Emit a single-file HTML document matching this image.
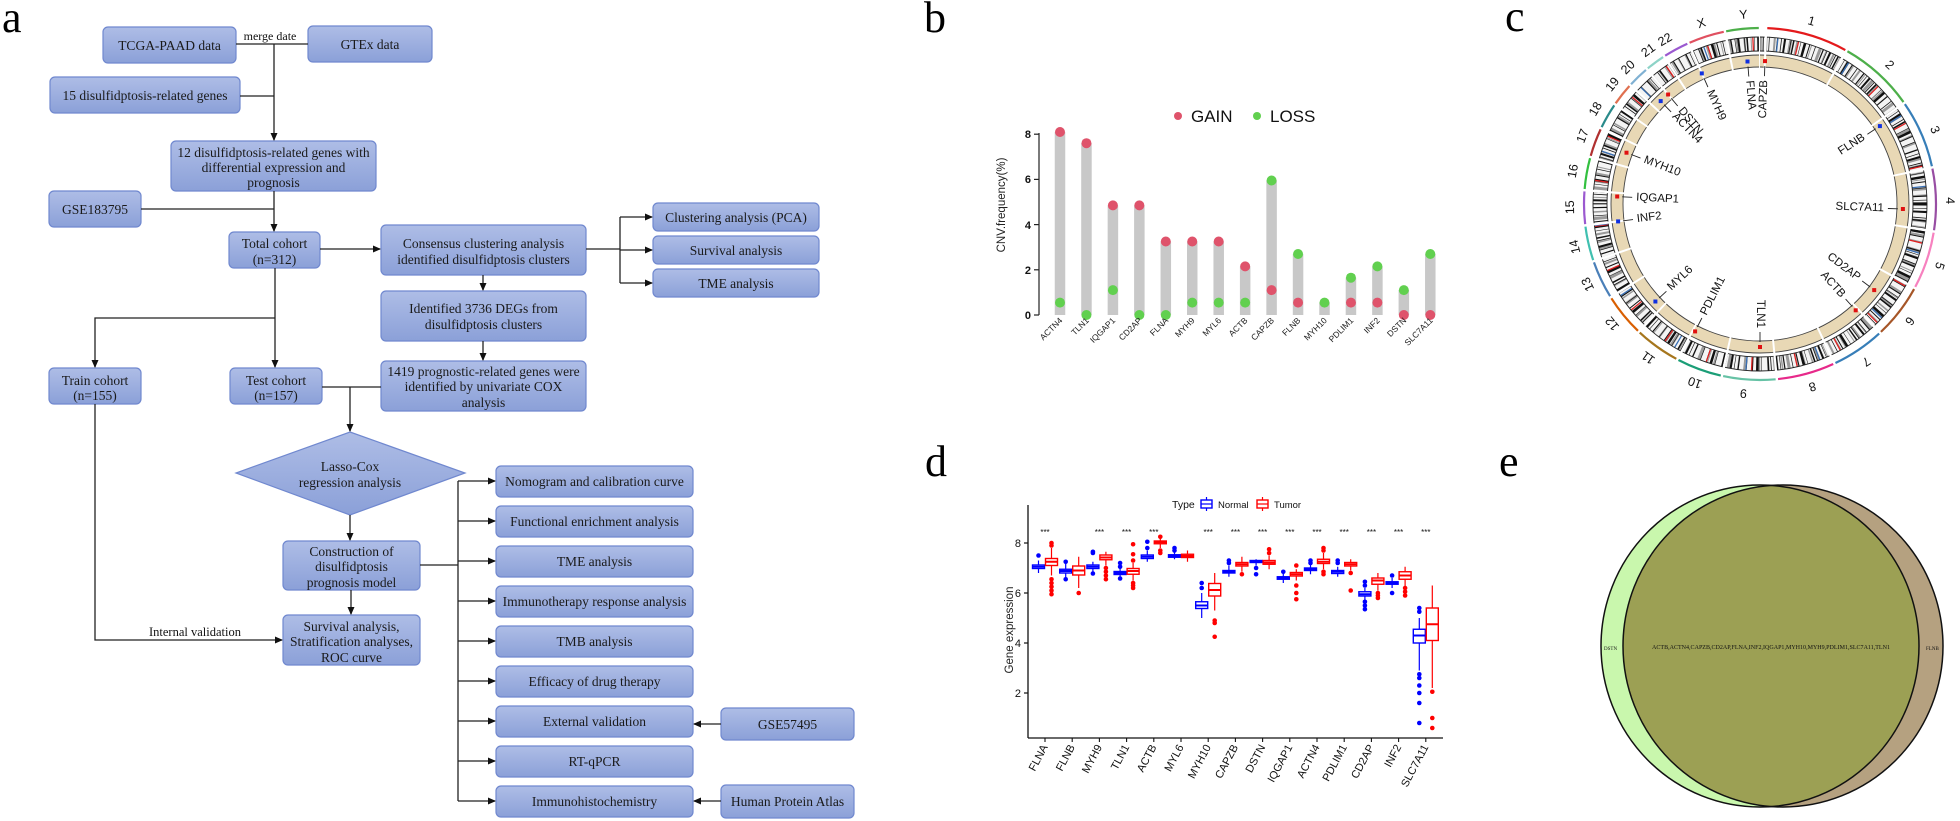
<!DOCTYPE html>
<html><head><meta charset="utf-8"><style>
html,body{margin:0;padding:0;background:#fff;width:1960px;height:821px;overflow:hidden}
svg{display:block}
.fb{fill:url(#bg);stroke:#7088cf;stroke-width:1.2}
.ft{font-family:"Liberation Serif",serif;font-size:13.5px;fill:#1a1a1a;text-anchor:middle}
.ln{stroke:#222;stroke-width:1.3;fill:none}
.ar{stroke:#222;stroke-width:1.3;fill:none;marker-end:url(#ah)}
.pl{font-family:"Liberation Serif",serif;font-size:44px;fill:#000}
.sa{font-family:"Liberation Sans",sans-serif}
.nb rect{fill:#fff;stroke:#0000ff;stroke-width:1.4}
.nb line{stroke:#0000ff;stroke-width:1.2}
.nb circle{fill:#0000ff}
.tb rect{fill:#fff;stroke:#ff0000;stroke-width:1.4}
.tb line{stroke:#ff0000;stroke-width:1.2}
.tb circle{fill:#ff0000}
.md{stroke-width:2 !important}
</style></head><body>
<svg width="1960" height="821" viewBox="0 0 1960 821" xmlns="http://www.w3.org/2000/svg">
<defs>
<linearGradient id="bg" x1="0" y1="0" x2="0" y2="1"><stop offset="0" stop-color="#aebde6"/><stop offset="1" stop-color="#8ba0d8"/></linearGradient>
<marker id="ah" markerWidth="8" markerHeight="8" refX="7" refY="4" orient="auto" markerUnits="userSpaceOnUse"><path d="M0,0.5 L8,4 L0,7.5 z" fill="#111"/></marker>
<clipPath id="gc"><ellipse cx="1760" cy="646" rx="159" ry="161"/></clipPath>
</defs>

<!-- ========== PANEL A ========== -->
<text class="pl" x="2" y="32">a</text>
<g>
<rect class="fb" x="103" y="27" width="133" height="36" rx="5"/><text class="ft" x="169.5" y="50">TCGA-PAAD data</text>
<rect class="fb" x="308" y="26" width="124" height="36" rx="5"/><text class="ft" x="370" y="49">GTEx data</text>
<rect class="fb" x="50" y="77" width="190" height="36" rx="5"/><text class="ft" x="145" y="100">15 disulfidptosis-related genes</text>
<rect class="fb" x="171" y="141" width="205" height="50" rx="5"/>
<text class="ft" x="273.5" y="157">12 disulfidptosis-related genes with</text>
<text class="ft" x="273.5" y="172">differential expression and</text>
<text class="ft" x="273.5" y="187">prognosis</text>
<rect class="fb" x="49" y="191" width="92" height="36" rx="5"/><text class="ft" x="95" y="214">GSE183795</text>
<rect class="fb" x="229" y="232" width="91" height="36" rx="5"/><text class="ft" x="274.5" y="248">Total cohort</text><text class="ft" x="274.5" y="264">(n=312)</text>
<rect class="fb" x="381" y="225" width="205" height="50" rx="5"/><text class="ft" x="483.5" y="248">Consensus clustering analysis</text><text class="ft" x="483.5" y="264">identified disulfidptosis clusters</text>
<rect class="fb" x="653" y="203" width="166" height="28" rx="5"/><text class="ft" x="736" y="222">Clustering analysis (PCA)</text>
<rect class="fb" x="653" y="236" width="166" height="28" rx="5"/><text class="ft" x="736" y="255">Survival analysis</text>
<rect class="fb" x="653" y="269" width="166" height="28" rx="5"/><text class="ft" x="736" y="288">TME analysis</text>
<rect class="fb" x="381" y="291" width="205" height="50" rx="5"/><text class="ft" x="483.5" y="313">Identified 3736 DEGs from</text><text class="ft" x="483.5" y="329">disulfidptosis clusters</text>
<rect class="fb" x="381" y="361" width="205" height="50" rx="5"/><text class="ft" x="483.5" y="376">1419 prognostic-related genes were</text><text class="ft" x="483.5" y="391">identified by univariate COX</text><text class="ft" x="483.5" y="407">analysis</text>
<rect class="fb" x="49" y="368" width="92" height="36" rx="5"/><text class="ft" x="95" y="385">Train cohort</text><text class="ft" x="95" y="400">(n=155)</text>
<rect class="fb" x="230" y="368" width="92" height="36" rx="5"/><text class="ft" x="276" y="385">Test cohort</text><text class="ft" x="276" y="400">(n=157)</text>
<polygon points="350,432 465,473 350,515 236,473" fill="url(#bg)" stroke="#7088cf" stroke-width="1.2"/>
<text class="ft" x="350" y="471">Lasso-Cox</text><text class="ft" x="350" y="487">regression analysis</text>
<rect class="fb" x="283" y="541" width="137" height="49" rx="5"/><text class="ft" x="351.5" y="556">Construction of</text><text class="ft" x="351.5" y="571">disulfidptosis</text><text class="ft" x="351.5" y="587">prognosis model</text>
<rect class="fb" x="283" y="615" width="137" height="50" rx="5"/><text class="ft" x="351.5" y="631">Survival analysis,</text><text class="ft" x="351.5" y="646">Stratification analyses,</text><text class="ft" x="351.5" y="662">ROC curve</text>
<rect class="fb" x="496" y="466" width="197" height="31" rx="5"/><text class="ft" x="594.5" y="486">Nomogram and calibration curve</text>
<rect class="fb" x="496" y="506" width="197" height="31" rx="5"/><text class="ft" x="594.5" y="526">Functional enrichment analysis</text>
<rect class="fb" x="496" y="546" width="197" height="31" rx="5"/><text class="ft" x="594.5" y="566">TME analysis</text>
<rect class="fb" x="496" y="586" width="197" height="31" rx="5"/><text class="ft" x="594.5" y="606">Immunotherapy response analysis</text>
<rect class="fb" x="496" y="626" width="197" height="31" rx="5"/><text class="ft" x="594.5" y="646">TMB analysis</text>
<rect class="fb" x="496" y="666" width="197" height="31" rx="5"/><text class="ft" x="594.5" y="686">Efficacy of drug therapy</text>
<rect class="fb" x="496" y="706" width="197" height="31" rx="5"/><text class="ft" x="594.5" y="726">External validation</text>
<rect class="fb" x="496" y="746" width="197" height="31" rx="5"/><text class="ft" x="594.5" y="766">RT-qPCR</text>
<rect class="fb" x="496" y="786" width="197" height="31" rx="5"/><text class="ft" x="594.5" y="806">Immunohistochemistry</text>
<rect class="fb" x="721" y="708" width="133" height="32" rx="5"/><text class="ft" x="787.5" y="729">GSE57495</text>
<rect class="fb" x="721" y="785" width="133" height="33" rx="5"/><text class="ft" x="787.5" y="806">Human Protein Atlas</text>

<text x="270" y="40" font-family="Liberation Serif,serif" font-size="12" text-anchor="middle" fill="#111">merge date</text>
<text x="195" y="636" font-family="Liberation Serif,serif" font-size="12.5" text-anchor="middle" fill="#111">Internal validation</text>

<line class="ln" x1="236" y1="44" x2="308" y2="44"/>
<line class="ar" x1="274" y1="44" x2="274" y2="140"/>
<line class="ln" x1="240" y1="96" x2="274" y2="96"/>
<line class="ln" x1="141" y1="209" x2="274" y2="209"/>
<line class="ar" x1="274" y1="191" x2="274" y2="231"/>
<line class="ar" x1="320" y1="249" x2="380" y2="249"/>
<line class="ln" x1="586" y1="249" x2="620" y2="249"/>
<line class="ln" x1="620" y1="217" x2="620" y2="283"/>
<line class="ar" x1="620" y1="217" x2="652" y2="217"/>
<line class="ar" x1="620" y1="250" x2="652" y2="250"/>
<line class="ar" x1="620" y1="283" x2="652" y2="283"/>
<line class="ar" x1="483" y1="275" x2="483" y2="290"/>
<line class="ar" x1="483" y1="341" x2="483" y2="360"/>
<line class="ar" x1="275" y1="268" x2="275" y2="367"/>
<polyline class="ar" points="275,318 95,318 95,367"/>
<line class="ln" x1="322" y1="387" x2="381" y2="387"/>
<line class="ar" x1="350" y1="387" x2="350" y2="431"/>
<line class="ar" x1="350" y1="515" x2="350" y2="540"/>
<line class="ar" x1="351" y1="590" x2="351" y2="614"/>
<polyline class="ar" points="95,404 95,640 282,640"/>
<line class="ln" x1="420" y1="565" x2="458" y2="565"/>
<line class="ln" x1="458" y1="481" x2="458" y2="801"/>
<line class="ar" x1="458" y1="481" x2="495" y2="481"/>
<line class="ar" x1="458" y1="521" x2="495" y2="521"/>
<line class="ar" x1="458" y1="561" x2="495" y2="561"/>
<line class="ar" x1="458" y1="601" x2="495" y2="601"/>
<line class="ar" x1="458" y1="641" x2="495" y2="641"/>
<line class="ar" x1="458" y1="681" x2="495" y2="681"/>
<line class="ar" x1="458" y1="721" x2="495" y2="721"/>
<line class="ar" x1="458" y1="761" x2="495" y2="761"/>
<line class="ar" x1="458" y1="801" x2="495" y2="801"/>
<line class="ar" x1="721" y1="724" x2="694" y2="724"/>
<line class="ar" x1="721" y1="801" x2="694" y2="801"/>
</g>

<!-- ========== PANEL B ========== -->
<text class="pl" x="924" y="32">b</text>
<g class="sa">
<circle cx="1178" cy="116" r="4" fill="#DF536B"/><text x="1191" y="122" font-size="17" fill="#111">GAIN</text>
<circle cx="1257" cy="116" r="4" fill="#61D04F"/><text x="1270" y="122" font-size="17" fill="#111">LOSS</text>
<text transform="translate(1005,205) rotate(-90)" font-size="11.5" text-anchor="middle" fill="#222">CNV.frequency(%)</text>
<line x1="1039" y1="133" x2="1039" y2="315" stroke="#222" stroke-width="1.2"/>
<g stroke="#222" stroke-width="1.2">
<line x1="1034" y1="315" x2="1039" y2="315"/><line x1="1034" y1="269.8" x2="1039" y2="269.8"/><line x1="1034" y1="224.6" x2="1039" y2="224.6"/><line x1="1034" y1="179.4" x2="1039" y2="179.4"/><line x1="1034" y1="134.2" x2="1039" y2="134.2"/>
</g>
<g font-size="11" font-weight="bold" text-anchor="end" fill="#111">
<text x="1031" y="319">0</text><text x="1031" y="274">2</text><text x="1031" y="229">4</text><text x="1031" y="183">6</text><text x="1031" y="138">8</text>
</g>
<g fill="#c8c8c8">
<rect x="1054.75" y="132" width="10.5" height="183"/>
<rect x="1081.2" y="143.2" width="10.5" height="171.8"/>
<rect x="1107.65" y="205.4" width="10.5" height="109.6"/>
<rect x="1134.1" y="205.4" width="10.5" height="109.6"/>
<rect x="1160.55" y="241.5" width="10.5" height="73.5"/>
<rect x="1187" y="241.5" width="10.5" height="73.5"/>
<rect x="1213.45" y="241.5" width="10.5" height="73.5"/>
<rect x="1239.9" y="266.4" width="10.5" height="48.6"/>
<rect x="1266.35" y="180.5" width="10.5" height="134.5"/>
<rect x="1292.8" y="254" width="10.5" height="61"/>
<rect x="1319.25" y="302.6" width="10.5" height="12.4"/>
<rect x="1345.7" y="277.7" width="10.5" height="37.3"/>
<rect x="1372.15" y="266.4" width="10.5" height="48.6"/>
<rect x="1398.6" y="290.1" width="10.5" height="24.9"/>
<rect x="1425.05" y="254" width="10.5" height="61"/>
</g>
<g fill="#61D04F">
<circle cx="1060" cy="302.6" r="5"/><circle cx="1086.45" cy="315" r="5"/><circle cx="1112.9" cy="290.1" r="5"/><circle cx="1139.35" cy="315" r="5"/><circle cx="1165.8" cy="315" r="5"/><circle cx="1192.25" cy="302.6" r="5"/><circle cx="1218.7" cy="302.6" r="5"/><circle cx="1245.15" cy="302.6" r="5"/><circle cx="1271.6" cy="180.5" r="5"/><circle cx="1298.05" cy="254" r="5"/><circle cx="1324.5" cy="302.6" r="5"/><circle cx="1350.95" cy="277.7" r="5"/><circle cx="1377.4" cy="266.4" r="5"/><circle cx="1403.85" cy="290.1" r="5"/><circle cx="1430.3" cy="254" r="5"/>
</g>
<g fill="#DF536B">
<circle cx="1060" cy="132" r="5"/><circle cx="1086.45" cy="143.2" r="5"/><circle cx="1112.9" cy="205.4" r="5"/><circle cx="1139.35" cy="205.4" r="5"/><circle cx="1165.8" cy="241.5" r="5"/><circle cx="1192.25" cy="241.5" r="5"/><circle cx="1218.7" cy="241.5" r="5"/><circle cx="1245.15" cy="266.4" r="5"/><circle cx="1271.6" cy="290.1" r="5"/><circle cx="1298.05" cy="302.6" r="5"/><circle cx="1350.95" cy="302.6" r="5"/><circle cx="1377.4" cy="302.6" r="5"/><circle cx="1403.85" cy="315" r="5"/><circle cx="1430.3" cy="315" r="5"/>
</g>
<g font-size="8.5" text-anchor="end" fill="#222">
<text transform="translate(1063,321) rotate(-45)">ACTN4</text>
<text transform="translate(1089.45,321) rotate(-45)">TLN1</text>
<text transform="translate(1115.9,321) rotate(-45)">IQGAP1</text>
<text transform="translate(1142.35,321) rotate(-45)">CD2AP</text>
<text transform="translate(1168.8,321) rotate(-45)">FLNA</text>
<text transform="translate(1195.25,321) rotate(-45)">MYH9</text>
<text transform="translate(1221.7,321) rotate(-45)">MYL6</text>
<text transform="translate(1248.15,321) rotate(-45)">ACTB</text>
<text transform="translate(1274.6,321) rotate(-45)">CAPZB</text>
<text transform="translate(1301.05,321) rotate(-45)">FLNB</text>
<text transform="translate(1327.5,321) rotate(-45)">MYH10</text>
<text transform="translate(1353.95,321) rotate(-45)">PDLIM1</text>
<text transform="translate(1380.4,321) rotate(-45)">INF2</text>
<text transform="translate(1406.85,321) rotate(-45)">DSTN</text>
<text transform="translate(1433.3,321) rotate(-45)">SLC7A11</text>
</g>
</g>

<!-- ========== PANEL C ========== -->
<text class="pl" x="1505" y="31">c</text>
<g>
<!-- outer colored arcs -->
<g fill="none" stroke-width="2.2" transform="rotate(-90 1760 204)">
<circle cx="1760" cy="204" r="176" pathLength="360" stroke="#e41a1c" stroke-dasharray="0 2.4 26.6 720"/>
<circle cx="1760" cy="204" r="176" pathLength="360" stroke="#4daf4a" stroke-dasharray="0 29.8 24.8 720"/>
<circle cx="1760" cy="204" r="176" pathLength="360" stroke="#377eb8" stroke-dasharray="0 55.4 22.2 720"/>
<circle cx="1760" cy="204" r="176" pathLength="360" stroke="#984ea3" stroke-dasharray="0 78.4 20.2 720"/>
<circle cx="1760" cy="204" r="176" pathLength="360" stroke="#f781bf" stroke-dasharray="0 99.4 18.7 720"/>
<circle cx="1760" cy="204" r="176" pathLength="360" stroke="#a65628" stroke-dasharray="0 118.9 17.7 720"/>
<circle cx="1760" cy="204" r="176" pathLength="360" stroke="#377eb8" stroke-dasharray="0 137.4 17.2 720"/>
<circle cx="1760" cy="204" r="176" pathLength="360" stroke="#e7298a" stroke-dasharray="0 155.4 18.7 720"/>
<circle cx="1760" cy="204" r="176" pathLength="360" stroke="#66c2a5" stroke-dasharray="0 174.9 17.2 720"/>
<circle cx="1760" cy="204" r="176" pathLength="360" stroke="#1b9e77" stroke-dasharray="0 192.9 14.7 720"/>
<circle cx="1760" cy="204" r="176" pathLength="360" stroke="#a6761d" stroke-dasharray="0 208.4 14.7 720"/>
<circle cx="1760" cy="204" r="176" pathLength="360" stroke="#d95f02" stroke-dasharray="0 223.9 13.7 720"/>
<circle cx="1760" cy="204" r="176" pathLength="360" stroke="#4a7fb8" stroke-dasharray="0 238.4 12.2 720"/>
<circle cx="1760" cy="204" r="176" pathLength="360" stroke="#40c0b0" stroke-dasharray="0 251.4 11.2 720"/>
<circle cx="1760" cy="204" r="176" pathLength="360" stroke="#9b59d0" stroke-dasharray="0 263.4 10.7 720"/>
<circle cx="1760" cy="204" r="176" pathLength="360" stroke="#33c040" stroke-dasharray="0 274.9 10.2 720"/>
<circle cx="1760" cy="204" r="176" pathLength="360" stroke="#b03030" stroke-dasharray="0 285.9 9.2 720"/>
<circle cx="1760" cy="204" r="176" pathLength="360" stroke="#2a8a8a" stroke-dasharray="0 295.9 8.2 720"/>
<circle cx="1760" cy="204" r="176" pathLength="360" stroke="#e07050" stroke-dasharray="0 304.9 7.2 720"/>
<circle cx="1760" cy="204" r="176" pathLength="360" stroke="#80b1d3" stroke-dasharray="0 312.9 6.7 720"/>
<circle cx="1760" cy="204" r="176" pathLength="360" stroke="#8dd3c7" stroke-dasharray="0 320.4 6.2 720"/>
<circle cx="1760" cy="204" r="176" pathLength="360" stroke="#9b59d0" stroke-dasharray="0 327.4 8.2 720"/>
<circle cx="1760" cy="204" r="176" pathLength="360" stroke="#e05060" stroke-dasharray="0 336.4 11.7 720"/>
<circle cx="1760" cy="204" r="176" pathLength="360" stroke="#4daf4a" stroke-dasharray="0 348.9 10.7 720"/>
</g>
<!-- ideogram -->
<circle cx="1760" cy="204" r="160" fill="none" stroke="#f4f4f4" stroke-width="14"/>
<circle cx="1760" cy="204" r="160" fill="none" stroke="#9a9a9a" stroke-width="14" stroke-dasharray="2 5 1 7 3 4 1.5 6"/>
<circle cx="1760" cy="204" r="160" fill="none" stroke="#111" stroke-width="14" stroke-dasharray="1.2 3 0.6 2 2 4.5 0.8 1.5 1.5 6 0.5 2.5 2.5 3 1 5 0.7 7"/>
<circle cx="1760" cy="204" r="160" fill="none" stroke="#e02020" stroke-width="14" stroke-dasharray="1.3 43" stroke-dashoffset="7"/>
<circle cx="1760" cy="204" r="160" fill="none" stroke="#3a70b5" stroke-width="14" stroke-dasharray="1.3 71" stroke-dashoffset="25"/>
<circle cx="1760" cy="204" r="167" fill="none" stroke="#222" stroke-width="0.9"/>
<circle cx="1760" cy="204" r="153" fill="none" stroke="#222" stroke-width="0.9"/>
<!-- tan ring -->
<circle cx="1760" cy="204" r="143" fill="none" stroke="#e8d8b5" stroke-width="12"/>
<circle cx="1760" cy="204" r="149" fill="none" stroke="#444" stroke-width="0.9"/>
<circle cx="1760" cy="204" r="137" fill="none" stroke="#444" stroke-width="0.9"/>
<!-- chromosome gaps -->
<g transform="rotate(-90 1760 204)" fill="none" stroke="#fff">
<circle cx="1760" cy="204" r="160" pathLength="360" stroke-width="17" stroke-dasharray="0 1.6 0.8 26.6 0.8 24.8 0.8 22.2 0.8 20.2 0.8 18.7 0.8 17.7 0.8 17.2 0.8 18.7 0.8 17.2 0.8 14.7 0.8 14.7 0.8 13.7 0.8 12.2 0.8 11.2 0.8 10.7 0.8 10.2 0.8 9.2 0.8 8.2 0.8 7.2 0.8 6.7 0.8 6.2 0.8 8.2 0.8 11.7 0.8 10.7 0.8 400"/>
<circle cx="1760" cy="204" r="143" pathLength="360" stroke-width="14" stroke-dasharray="0 1.6 0.8 26.6 0.8 24.8 0.8 22.2 0.8 20.2 0.8 18.7 0.8 17.7 0.8 17.2 0.8 18.7 0.8 17.2 0.8 14.7 0.8 14.7 0.8 13.7 0.8 12.2 0.8 11.2 0.8 10.7 0.8 10.2 0.8 9.2 0.8 8.2 0.8 7.2 0.8 6.7 0.8 6.2 0.8 8.2 0.8 11.7 0.8 10.7 0.8 400"/>
</g>
<!-- chromosome labels -->
<g class="sa" font-size="12.5" text-anchor="middle" dominant-baseline="central" fill="#111">
<text x="1811.4" y="21.1" transform="rotate(15.7 1811.4 21.1)">1</text>
<text x="1889.6" y="65" transform="rotate(43 1889.6 65)">2</text>
<text x="1934.9" y="129.8" transform="rotate(67 1934.9 129.8)">3</text>
<text x="1950" y="200.7" transform="rotate(89 1950 200.7)">4</text>
<text x="1939.6" y="265.9" transform="rotate(109 1939.6 265.9)">5</text>
<text x="1909.7" y="321" transform="rotate(128 1909.7 321)">6</text>
<text x="1866.2" y="361.5" transform="rotate(146 1866.2 361.5)">7</text>
<text x="1812.4" y="386.6" transform="rotate(164 1812.4 386.6)">8</text>
<text x="1743.4" y="393.3" transform="rotate(185 1743.4 393.3)">9</text>
<text x="1695" y="382.5" transform="rotate(200 1695 382.5)">10</text>
<text x="1648.3" y="357.7" transform="rotate(216 1648.3 357.7)">11</text>
<text x="1612.3" y="323.6" transform="rotate(231 1612.3 323.6)">12</text>
<text x="1587.8" y="284.3" transform="rotate(245 1587.8 284.3)">13</text>
<text x="1574.9" y="246.8" transform="rotate(257 1574.9 246.8)">14</text>
<text x="1570" y="207.3" transform="rotate(269 1570 207.3)">15</text>
<text x="1572.9" y="171" transform="rotate(280 1572.9 171)">16</text>
<text x="1582.6" y="135.9" transform="rotate(291 1582.6 135.9)">17</text>
<text x="1595.5" y="109" transform="rotate(300 1595.5 109)">18</text>
<text x="1612.4" y="84.4" transform="rotate(309 1612.4 84.4)">19</text>
<text x="1628" y="67.3" transform="rotate(316 1628 67.3)">20</text>
<text x="1648.3" y="50.3" transform="rotate(324 1648.3 50.3)">21</text>
<text x="1665" y="39.5" transform="rotate(330 1665 39.5)">22</text>
<text x="1701.3" y="23.3" transform="rotate(342 1701.3 23.3)">X</text>
<text x="1743.4" y="14.7" transform="rotate(355 1743.4 14.7)">Y</text>
</g>
<!-- gene markers & leaders -->
<g stroke="#222" stroke-width="0.9">
<line x1="1748.8" y1="76.5" x2="1748" y2="66.5"/><line x1="1764.5" y1="76.1" x2="1764.8" y2="66.1"/>
<line x1="1707.9" y1="87.1" x2="1703.9" y2="77.9"/><line x1="1677.7" y1="106" x2="1671.3" y2="98.3"/>
<line x1="1671.1" y1="111.9" x2="1664.1" y2="104.7"/><line x1="1867.4" y1="134.3" x2="1875.7" y2="128.8"/>
<line x1="1640.5" y1="158.1" x2="1631.2" y2="154.5"/><line x1="1632.2" y1="197.3" x2="1622.2" y2="196.8"/>
<line x1="1633" y1="219.6" x2="1623" y2="220.8"/><line x1="1887.9" y1="208.5" x2="1897.9" y2="208.8"/>
<line x1="1666.4" y1="291.3" x2="1659.1" y2="298.1"/><line x1="1862.2" y1="281" x2="1870.2" y2="287"/>
<line x1="1845.6" y1="299.1" x2="1852.3" y2="306.5"/><line x1="1701.9" y1="318" x2="1697.3" y2="327"/>
<line x1="1760" y1="332" x2="1760" y2="342"/>
</g>
<g>
<rect x="1745.5" y="59.5" width="4" height="4" fill="#1030e0"/><rect x="1763" y="59.1" width="4" height="4" fill="#e01010"/>
<rect x="1699.8" y="71.4" width="4" height="4" fill="#1030e0"/><rect x="1666.1" y="92.5" width="4" height="4" fill="#e01010"/>
<rect x="1658.7" y="99.1" width="4" height="4" fill="#1030e0"/><rect x="1877.9" y="124.1" width="4" height="4" fill="#1030e0"/>
<rect x="1624.5" y="150.7" width="4" height="4" fill="#e01010"/><rect x="1615.2" y="194.5" width="4" height="4" fill="#e01010"/>
<rect x="1616.1" y="219.4" width="4" height="4" fill="#1030e0"/><rect x="1900.9" y="207" width="4" height="4" fill="#e01010"/>
<rect x="1653.4" y="299.5" width="4" height="4" fill="#1030e0"/><rect x="1872.2" y="288.1" width="4" height="4" fill="#e01010"/>
<rect x="1853.7" y="308.3" width="4" height="4" fill="#e01010"/><rect x="1693.1" y="329.4" width="4" height="4" fill="#e01010"/>
<rect x="1758" y="345" width="4" height="4" fill="#e01010"/>
</g>
<g class="sa" font-size="11.5" fill="#111" dominant-baseline="central">
<text x="1749.2" y="80.5" transform="rotate(85 1749.2 80.5)">FLNA</text>
<text x="1764.3" y="80.1" text-anchor="end" transform="rotate(-88 1764.3 80.1)">CAPZB</text>
<text x="1709.6" y="90.7" transform="rotate(66 1709.6 90.7)">MYH9</text>
<text x="1680.3" y="109" transform="rotate(50 1680.3 109)">DSTN</text>
<text x="1673.9" y="114.8" transform="rotate(46 1673.9 114.8)">ACTN4</text>
<text x="1864" y="136.5" text-anchor="end" transform="rotate(-33 1864 136.5)">FLNB</text>
<text x="1644.2" y="159.6" transform="rotate(21 1644.2 159.6)">MYH10</text>
<text x="1636.2" y="197.5" transform="rotate(3 1636.2 197.5)">IQGAP1</text>
<text x="1636.9" y="219.1" transform="rotate(-7 1636.9 219.1)">INF2</text>
<text x="1883.9" y="208.3" text-anchor="end" transform="rotate(2 1883.9 208.3)">SLC7A11</text>
<text x="1669.3" y="288.6" transform="rotate(-43 1669.3 288.6)">MYL6</text>
<text x="1859" y="278.6" text-anchor="end" transform="rotate(37 1859 278.6)">CD2AP</text>
<text x="1843" y="296.1" text-anchor="end" transform="rotate(48 1843 296.1)">ACTB</text>
<text x="1703.7" y="314.5" transform="rotate(-63 1703.7 314.5)">PDLIM1</text>
<text x="1760" y="328" text-anchor="end" transform="rotate(90 1760 328)">TLN1</text>
</g>
</g>

<!-- ========== PANEL D ========== -->
<text class="pl" x="925" y="476">d</text>
<g class="sa">
<text x="1172" y="508" font-size="10.5" fill="#111">Type</text>
<g class="nb"><rect x="1201" y="500" width="11" height="8"/><line x1="1201" y1="504" x2="1212" y2="504"/><line x1="1206.5" y1="497" x2="1206.5" y2="500"/><line x1="1206.5" y1="508" x2="1206.5" y2="511"/></g>
<text x="1218" y="508" font-size="9.5" fill="#111">Normal</text>
<g class="tb"><rect x="1257" y="500" width="11" height="8"/><line x1="1257" y1="504" x2="1268" y2="504"/><line x1="1262.5" y1="497" x2="1262.5" y2="500"/><line x1="1262.5" y1="508" x2="1262.5" y2="511"/></g>
<text x="1274" y="508" font-size="9.5" fill="#111">Tumor</text>

<text transform="translate(1013,630) rotate(-90)" font-size="11.5" text-anchor="middle" fill="#222">Gene expression</text>
<line x1="1028" y1="505" x2="1028" y2="738" stroke="#111" stroke-width="1.3"/>
<line x1="1028" y1="738" x2="1443" y2="738" stroke="#111" stroke-width="1.3"/>
<g stroke="#111" stroke-width="1.2"><line x1="1024" y1="543" x2="1028" y2="543"/><line x1="1024" y1="593" x2="1028" y2="593"/><line x1="1024" y1="643" x2="1028" y2="643"/><line x1="1024" y1="693" x2="1028" y2="693"/></g>
<g font-size="11" text-anchor="end" fill="#111"><text x="1021" y="547">8</text><text x="1021" y="597">6</text><text x="1021" y="647">4</text><text x="1021" y="697">2</text></g>
<g font-size="8" text-anchor="middle" fill="#111">
<text x="1045" y="535">***</text><text x="1099.4" y="535">***</text><text x="1126.6" y="535">***</text><text x="1153.8" y="535">***</text><text x="1208.2" y="535">***</text><text x="1235.4" y="535">***</text><text x="1262.6" y="535">***</text><text x="1289.8" y="535">***</text><text x="1317" y="535">***</text><text x="1344.2" y="535">***</text><text x="1371.4" y="535">***</text><text x="1398.6" y="535">***</text><text x="1425.8" y="535">***</text>
</g>
<!-- boxes -->
<g class="nb"><line x1="1038.5" y1="560.5" x2="1038.5" y2="573"/><rect x="1032.5" y="565" width="12" height="3.5"/><line class="md" x1="1032.5" y1="566.75" x2="1044.5" y2="566.75"/><circle cx="1038.5" cy="555.5" r="2.3"/></g>
<g class="tb"><line x1="1051.5" y1="548" x2="1051.5" y2="575.5"/><rect x="1045.5" y="558.5" width="12" height="7"/><line class="md" x1="1045.5" y1="561.75" x2="1057.5" y2="561.75"/><circle cx="1051.5" cy="594.25" r="2.3"/><circle cx="1051.5" cy="590.5" r="2.3"/><circle cx="1051.5" cy="586.75" r="2.3"/><circle cx="1051.5" cy="583" r="2.3"/><circle cx="1051.5" cy="579.25" r="2.3"/><circle cx="1051.5" cy="545.5" r="2.3"/><circle cx="1051.5" cy="543" r="2.3"/></g>

<g class="nb"><line x1="1065.7" y1="563" x2="1065.7" y2="578"/><rect x="1059.7" y="569.25" width="12" height="3.75"/><line class="md" x1="1059.7" y1="571" x2="1071.7" y2="571"/><circle cx="1065.7" cy="579.25" r="2.3"/><circle cx="1065.7" cy="561.75" r="2.3"/></g>
<g class="tb"><line x1="1078.7" y1="556.75" x2="1078.7" y2="588"/><rect x="1072.7" y="566" width="12" height="9"/><line class="md" x1="1072.7" y1="570.5" x2="1084.7" y2="570.5"/><circle cx="1078.7" cy="593" r="2.3"/></g>

<g class="nb"><line x1="1092.9" y1="561.75" x2="1092.9" y2="571.75"/><rect x="1086.9" y="565" width="12" height="3.5"/><line class="md" x1="1086.9" y1="566.75" x2="1098.9" y2="566.75"/><circle cx="1092.9" cy="573.5" r="2.3"/><circle cx="1092.9" cy="553" r="2.3"/><circle cx="1092.9" cy="551.75" r="2.3"/></g>
<g class="tb"><line x1="1105.9" y1="551.75" x2="1105.9" y2="565.5"/><rect x="1099.9" y="555" width="12" height="4.75"/><line class="md" x1="1099.9" y1="557.5" x2="1111.9" y2="557.5"/><circle cx="1105.9" cy="579.25" r="2.3"/><circle cx="1105.9" cy="575.5" r="2.3"/><circle cx="1105.9" cy="571.75" r="2.3"/><circle cx="1105.9" cy="568" r="2.3"/></g>

<g class="nb"><line x1="1120.1" y1="568" x2="1120.1" y2="578"/><rect x="1114.1" y="571.5" width="12" height="3"/><line class="md" x1="1114.1" y1="573" x2="1126.1" y2="573"/><circle cx="1120.1" cy="578.5" r="2.3"/><circle cx="1120.1" cy="566.75" r="2.3"/><circle cx="1120.1" cy="563" r="2.3"/></g>
<g class="tb"><line x1="1133.1" y1="563" x2="1133.1" y2="580.5"/><rect x="1127.1" y="568.5" width="12" height="5.75"/><line class="md" x1="1127.1" y1="571" x2="1139.1" y2="571"/><circle cx="1133.1" cy="588" r="2.3"/><circle cx="1133.1" cy="585.5" r="2.3"/><circle cx="1133.1" cy="583" r="2.3"/><circle cx="1133.1" cy="560.5" r="2.3"/><circle cx="1133.1" cy="554.25" r="2.3"/><circle cx="1133.1" cy="544.25" r="2.3"/></g>

<g class="nb"><line x1="1147.3" y1="550.5" x2="1147.3" y2="561.75"/><rect x="1141.3" y="555" width="12" height="3.5"/><line class="md" x1="1141.3" y1="556.75" x2="1153.3" y2="556.75"/><circle cx="1147.3" cy="548" r="2.3"/><circle cx="1147.3" cy="541.75" r="2.3"/></g>
<g class="tb"><line x1="1160.3" y1="538" x2="1160.3" y2="548"/><rect x="1154.3" y="541" width="12" height="2.75"/><line class="md" x1="1154.3" y1="542.25" x2="1166.3" y2="542.25"/><circle cx="1160.3" cy="553" r="2.3"/><circle cx="1160.3" cy="550.5" r="2.3"/><circle cx="1160.3" cy="536.75" r="2.3"/></g>

<g class="nb"><line x1="1174.5" y1="551.75" x2="1174.5" y2="559.25"/><rect x="1168.5" y="554.75" width="12" height="2.5"/><line class="md" x1="1168.5" y1="556" x2="1180.5" y2="556"/><circle cx="1174.5" cy="550.5" r="2.3"/><circle cx="1174.5" cy="548" r="2.3"/></g>
<g class="tb"><line x1="1187.5" y1="550.5" x2="1187.5" y2="561.75"/><rect x="1181.5" y="554.25" width="12" height="3.25"/><line class="md" x1="1181.5" y1="556" x2="1193.5" y2="556"/></g>

<g class="nb"><line x1="1201.7" y1="593" x2="1201.7" y2="618"/><rect x="1195.7" y="601.75" width="12" height="6.75"/><line class="md" x1="1195.7" y1="605.5" x2="1207.7" y2="605.5"/><circle cx="1201.7" cy="588" r="2.3"/><circle cx="1201.7" cy="583" r="2.3"/></g>
<g class="tb"><line x1="1214.7" y1="573" x2="1214.7" y2="610.5"/><rect x="1208.7" y="583.5" width="12" height="12.5"/><line class="md" x1="1208.7" y1="590" x2="1220.7" y2="590"/><circle cx="1214.7" cy="623" r="2.3"/><circle cx="1214.7" cy="620.5" r="2.3"/><circle cx="1214.7" cy="636.75" r="2.3"/></g>

<g class="nb"><line x1="1228.9" y1="565.5" x2="1228.9" y2="576.75"/><rect x="1222.9" y="570.5" width="12" height="2.5"/><line class="md" x1="1222.9" y1="571.75" x2="1234.9" y2="571.75"/><circle cx="1228.9" cy="563" r="2.3"/><circle cx="1228.9" cy="560.5" r="2.3"/></g>
<g class="tb"><line x1="1241.9" y1="556.75" x2="1241.9" y2="571.75"/><rect x="1235.9" y="562.5" width="12" height="3.5"/><line class="md" x1="1235.9" y1="564.25" x2="1247.9" y2="564.25"/><circle cx="1241.9" cy="574.25" r="2.3"/></g>

<g class="nb"><line x1="1256.1" y1="559.25" x2="1256.1" y2="565.5"/><rect x="1250.1" y="560.5" width="12" height="2"/><line class="md" x1="1250.1" y1="561.75" x2="1262.1" y2="561.75"/><circle cx="1256.1" cy="574.25" r="2.3"/><circle cx="1256.1" cy="568" r="2.3"/></g>
<g class="tb"><line x1="1269.1" y1="555.5" x2="1269.1" y2="569.25"/><rect x="1263.1" y="560.5" width="12" height="3.75"/><line class="md" x1="1263.1" y1="562.5" x2="1275.1" y2="562.5"/><circle cx="1269.1" cy="553" r="2.3"/><circle cx="1269.1" cy="549.25" r="2.3"/></g>

<g class="nb"><line x1="1283.3" y1="573" x2="1283.3" y2="583"/><rect x="1277.3" y="576.75" width="12" height="2.5"/><line class="md" x1="1277.3" y1="578" x2="1289.3" y2="578"/><circle cx="1283.3" cy="571.75" r="2.3"/></g>
<g class="tb"><line x1="1296.3" y1="569.25" x2="1296.3" y2="580.5"/><rect x="1290.3" y="572.5" width="12" height="3.5"/><line class="md" x1="1290.3" y1="574.25" x2="1302.3" y2="574.25"/><circle cx="1296.3" cy="585.5" r="2.3"/><circle cx="1296.3" cy="593" r="2.3"/><circle cx="1296.3" cy="599.25" r="2.3"/><circle cx="1296.3" cy="565.5" r="2.3"/></g>

<g class="nb"><line x1="1310.5" y1="564.25" x2="1310.5" y2="574.25"/><rect x="1304.5" y="568" width="12" height="2.5"/><line class="md" x1="1304.5" y1="569.25" x2="1316.5" y2="569.25"/><circle cx="1310.5" cy="563" r="2.3"/><circle cx="1310.5" cy="560.5" r="2.3"/></g>
<g class="tb"><line x1="1323.5" y1="553" x2="1323.5" y2="569.25"/><rect x="1317.5" y="559.25" width="12" height="4.25"/><line class="md" x1="1317.5" y1="561.75" x2="1329.5" y2="561.75"/><circle cx="1323.5" cy="574.25" r="2.3"/><circle cx="1323.5" cy="571.75" r="2.3"/><circle cx="1323.5" cy="550.5" r="2.3"/><circle cx="1323.5" cy="548" r="2.3"/></g>

<g class="nb"><line x1="1337.7" y1="566.75" x2="1337.7" y2="576.75"/><rect x="1331.7" y="570.5" width="12" height="3"/><line class="md" x1="1331.7" y1="571.75" x2="1343.7" y2="571.75"/><circle cx="1337.7" cy="563" r="2.3"/><circle cx="1337.7" cy="560.5" r="2.3"/></g>
<g class="tb"><line x1="1350.7" y1="559.25" x2="1350.7" y2="570.5"/><rect x="1344.7" y="562.5" width="12" height="3.5"/><line class="md" x1="1344.7" y1="564.25" x2="1356.7" y2="564.25"/><circle cx="1350.7" cy="573" r="2.3"/><circle cx="1350.7" cy="590.5" r="2.3"/></g>

<g class="nb"><line x1="1364.9" y1="588" x2="1364.9" y2="600.5"/><rect x="1358.9" y="591.75" width="12" height="4.25"/><line class="md" x1="1358.9" y1="594.25" x2="1370.9" y2="594.25"/><circle cx="1364.9" cy="609.25" r="2.3"/><circle cx="1364.9" cy="605.5" r="2.3"/><circle cx="1364.9" cy="601.75" r="2.3"/><circle cx="1364.9" cy="585.5" r="2.3"/><circle cx="1364.9" cy="581.75" r="2.3"/></g>
<g class="tb"><line x1="1377.9" y1="573" x2="1377.9" y2="590.5"/><rect x="1371.9" y="578" width="12" height="6.25"/><line class="md" x1="1371.9" y1="580.5" x2="1383.9" y2="580.5"/><circle cx="1377.9" cy="598" r="2.3"/><circle cx="1377.9" cy="595.5" r="2.3"/><circle cx="1377.9" cy="593" r="2.3"/></g>

<g class="nb"><line x1="1392.1" y1="578" x2="1392.1" y2="588"/><rect x="1386.1" y="581.75" width="12" height="2.5"/><line class="md" x1="1386.1" y1="583" x2="1398.1" y2="583"/><circle cx="1392.1" cy="593" r="2.3"/><circle cx="1392.1" cy="575.5" r="2.3"/></g>
<g class="tb"><line x1="1405.1" y1="566.75" x2="1405.1" y2="586.75"/><rect x="1399.1" y="571.75" width="12" height="7.5"/><line class="md" x1="1399.1" y1="575.5" x2="1411.1" y2="575.5"/><circle cx="1405.1" cy="595.5" r="2.3"/><circle cx="1405.1" cy="591.75" r="2.3"/><circle cx="1405.1" cy="588" r="2.3"/></g>

<g class="nb"><line x1="1419.3" y1="618" x2="1419.3" y2="670.5"/><rect x="1413.3" y="629.25" width="12" height="13.75"/><line class="md" x1="1413.3" y1="635.5" x2="1425.3" y2="635.5"/><circle cx="1419.3" cy="723" r="2.3"/><circle cx="1419.3" cy="703" r="2.3"/><circle cx="1419.3" cy="693" r="2.3"/><circle cx="1419.3" cy="685.5" r="2.3"/><circle cx="1419.3" cy="678" r="2.3"/><circle cx="1419.3" cy="674.25" r="2.3"/><circle cx="1419.3" cy="611.75" r="2.3"/><circle cx="1419.3" cy="608" r="2.3"/></g>
<g class="tb"><line x1="1432.3" y1="585.5" x2="1432.3" y2="688"/><rect x="1426.3" y="608" width="12" height="32.5"/><line class="md" x1="1426.3" y1="624.25" x2="1438.3" y2="624.25"/><circle cx="1432.3" cy="691.75" r="2.3"/><circle cx="1432.3" cy="718" r="2.3"/><circle cx="1432.3" cy="728" r="2.3"/></g>

<g stroke="#111" stroke-width="1.1">
<line x1="1045" y1="738" x2="1045" y2="742"/><line x1="1072.2" y1="738" x2="1072.2" y2="742"/><line x1="1099.4" y1="738" x2="1099.4" y2="742"/><line x1="1126.6" y1="738" x2="1126.6" y2="742"/><line x1="1153.8" y1="738" x2="1153.8" y2="742"/><line x1="1181" y1="738" x2="1181" y2="742"/><line x1="1208.2" y1="738" x2="1208.2" y2="742"/><line x1="1235.4" y1="738" x2="1235.4" y2="742"/><line x1="1262.6" y1="738" x2="1262.6" y2="742"/><line x1="1289.8" y1="738" x2="1289.8" y2="742"/><line x1="1317" y1="738" x2="1317" y2="742"/><line x1="1344.2" y1="738" x2="1344.2" y2="742"/><line x1="1371.4" y1="738" x2="1371.4" y2="742"/><line x1="1398.6" y1="738" x2="1398.6" y2="742"/><line x1="1425.8" y1="738" x2="1425.8" y2="742"/>
</g>
<g font-size="11" text-anchor="end" fill="#111">
<text transform="translate(1048,747) rotate(-62)">FLNA</text>
<text transform="translate(1075.2,747) rotate(-62)">FLNB</text>
<text transform="translate(1102.4,747) rotate(-62)">MYH9</text>
<text transform="translate(1129.6,747) rotate(-62)">TLN1</text>
<text transform="translate(1156.8,747) rotate(-62)">ACTB</text>
<text transform="translate(1184,747) rotate(-62)">MYL6</text>
<text transform="translate(1211.2,747) rotate(-62)">MYH10</text>
<text transform="translate(1238.4,747) rotate(-62)">CAPZB</text>
<text transform="translate(1265.6,747) rotate(-62)">DSTN</text>
<text transform="translate(1292.8,747) rotate(-62)">IQGAP1</text>
<text transform="translate(1320,747) rotate(-62)">ACTN4</text>
<text transform="translate(1347.2,747) rotate(-62)">PDLIM1</text>
<text transform="translate(1374.4,747) rotate(-62)">CD2AP</text>
<text transform="translate(1401.6,747) rotate(-62)">INF2</text>
<text transform="translate(1428.8,747) rotate(-62)">SLC7A11</text>
</g>
</g>

<!-- ========== PANEL E ========== -->
<text class="pl" x="1499" y="476">e</text>
<ellipse cx="1760" cy="646" rx="159" ry="161" fill="#c9f7ad"/>
<ellipse cx="1783" cy="646" rx="160" ry="161" fill="#b5a180"/>
<ellipse cx="1783" cy="646" rx="160" ry="161" fill="#9ca054" clip-path="url(#gc)"/>
<ellipse cx="1760" cy="646" rx="159" ry="161" fill="none" stroke="#111" stroke-width="1.5"/>
<ellipse cx="1783" cy="646" rx="160" ry="161" fill="none" stroke="#111" stroke-width="1.5"/>
<g font-family="Liberation Serif,serif" fill="#111">
<text x="1604" y="650" font-size="5">DSTN</text>
<text x="1926" y="650" font-size="5">FLNB</text>
<text x="1652" y="649" font-size="6" textLength="238" lengthAdjust="spacingAndGlyphs">ACTB,ACTN4,CAPZB,CD2AP,FLNA,INF2,IQGAP1,MYH10,MYH9,PDLIM1,SLC7A11,TLN1</text>
</g>
</svg>
</body></html>
